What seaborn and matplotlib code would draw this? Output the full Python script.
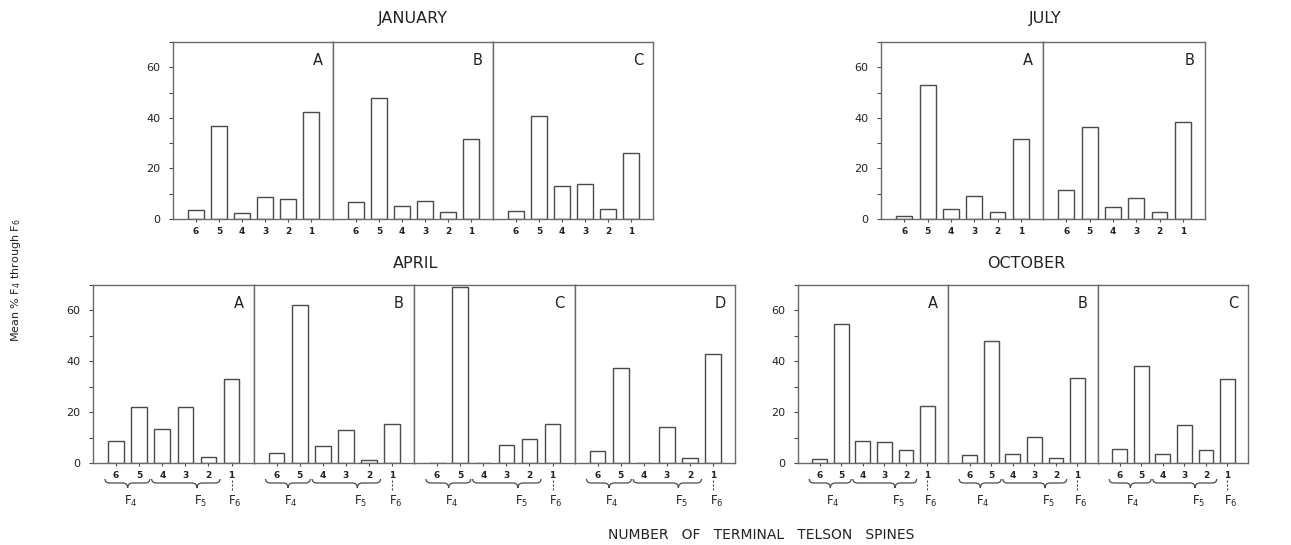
import matplotlib
matplotlib.use("Agg")
import matplotlib.pyplot as plt
import matplotlib.transforms as mtransforms
from matplotlib.path import Path
from matplotlib.patches import PathPatch
from matplotlib.ticker import MultipleLocator
import pandas as pd
import seaborn as sns

# Number of terminal telson spines (category order along each panel)
spines = ["6", "5", "4", "3", "2", "1"]

# Mean % of F4 through F6 for each station, by month
jan_a = [3.4, 36.9, 2.5, 8.8, 7.8, 42.5]
jan_b = [6.7, 47.9, 5.1, 7.3, 2.8, 31.7]
jan_c = [3.2, 40.9, 13.1, 13.9, 4.1, 26.0]

jul_a = [1.2, 53.0, 4.0, 9.0, 2.6, 31.5]
jul_b = [11.3, 36.3, 4.6, 8.3, 2.8, 38.3]

apr_a = [8.8, 22.2, 13.5, 22.2, 2.2, 33.0]
apr_b = [3.8, 62.3, 6.7, 12.8, 1.0, 15.2]
apr_c = [0.0, 69.3, 0.0, 7.1, 9.6, 15.2]
apr_d = [4.6, 37.3, 0.0, 14.0, 2.0, 42.9]

oct_a = [1.6, 54.6, 8.7, 8.3, 5.0, 22.4]
oct_b = [3.2, 47.9, 3.7, 10.3, 2.0, 33.5]
oct_c = [5.7, 38.3, 3.7, 15.0, 5.3, 33.0]

months = ["JANUARY", "JULY", "APRIL", "OCTOBER"]
stations = ["A", "B", "C", "D"]
y_ticks = [0, 20, 40, 60]

sns.set_style("white")
plt.rcParams["font.family"] = ["DejaVu Sans"]
plt.rcParams["mathtext.default"] = "regular"

W, H = 1291, 545
fig = plt.figure(figsize=(W / 100, H / 100), dpi=100)
fig.patch.set_facecolor("white")

FRAME = "#6a6a6a"
EDGE = "#4a4a4a"
TEXT = "#222222"


def px_axes(left, top, width, height):
    return fig.add_axes([left / W, 1 - (top + height) / H, width / W, height / H])


def brace(ax, x0, x1, xm, h_px):
    """Curly brace under the axis, from x0 to x1 with its tip at xm."""
    tr = mtransforms.blended_transform_factory(ax.transData, ax.transAxes)
    y_end = -16 / h_px
    y_line = -20 / h_px
    y_tip = -25 / h_px
    w = 0.22
    verts = [
        (x0, y_end), (x0, y_line), (x0 + w, y_line),
        (xm - w, y_line),
        (xm, y_line), (xm, y_tip),
        (xm, y_line), (xm + w, y_line),
        (x1 - w, y_line),
        (x1, y_line), (x1, y_end),
    ]
    codes = [Path.MOVETO, Path.CURVE3, Path.CURVE3,
             Path.LINETO,
             Path.CURVE3, Path.CURVE3,
             Path.CURVE3, Path.CURVE3,
             Path.LINETO,
             Path.CURVE3, Path.CURVE3]
    ax.add_patch(PathPatch(Path(verts, codes), transform=tr, fill=False,
                           edgecolor=EDGE, lw=0.9, clip_on=False))


def draw_group(title, title_xy, panels, left, top, width, height, braces):
    for i, vals in enumerate(panels):
        ax = px_axes(left + i * width, top, width, height)
        df = pd.DataFrame({"spines": spines, "pct": vals})
        sns.barplot(data=df, x="spines", y="pct", order=spines, ax=ax,
                    color="white", saturation=1, edgecolor=EDGE,
                    linewidth=1.0, width=0.68)
        ax.set_xlim(-1.0, 5.95)
        ax.set_ylim(0, 70)
        ax.set_xlabel("")
        ax.set_ylabel("")
        ax.set_facecolor("white")
        for s in ax.spines.values():
            s.set_visible(True)
            s.set_color(FRAME)
            s.set_linewidth(1.0)
        ax.set_yticks(y_ticks)
        ax.yaxis.set_minor_locator(MultipleLocator(10))
        if i == 0:
            ax.tick_params(axis="y", which="both", left=True, direction="out",
                           length=3, width=0.8, color=EDGE, labelsize=8,
                           labelcolor=TEXT, pad=6)
        else:
            ax.tick_params(axis="y", which="both", left=False, labelleft=False)
        ax.tick_params(axis="x", bottom=True, direction="out", length=2.5,
                       width=0.8, color=EDGE, labelsize=6.5, labelcolor=TEXT,
                       pad=3)
        for lab in ax.get_xticklabels():
            lab.set_fontweight("bold")
        ax.text(1 - 15 / width, 1 - 18 / height, stations[i],
                transform=ax.transAxes, ha="center", va="center",
                fontsize=10.5, color=TEXT)
        if braces:
            brace(ax, -0.48, 1.46, 0.5, height)
            brace(ax, 1.54, 4.5, 3.5, height)
            tr = mtransforms.blended_transform_factory(ax.transData, ax.transAxes)
            ax.plot([5, 5], [-17 / height, -27 / height], transform=tr,
                    color=EDGE, lw=0.8, ls=(0, (2, 1.5)), clip_on=False)
            ax.text(0.62, -38 / height, "F$_4$", transform=tr, ha="center",
                    va="center", fontsize=8.5, color=TEXT)
            ax.text(3.65, -38 / height, "F$_5$", transform=tr, ha="center",
                    va="center", fontsize=8.5, color=TEXT)
            ax.text(5.15, -38 / height, "F$_6$", transform=tr, ha="center",
                    va="center", fontsize=8.5, color=TEXT)
    fig.text(title_xy[0] / W, 1 - title_xy[1] / H, title, ha="center",
             va="center", fontsize=11.5, color=TEXT)


draw_group(months[0], (413, 19), [jan_a, jan_b, jan_c], 173, 42, 160, 177, False)
draw_group(months[1], (1045, 19), [jul_a, jul_b], 881, 42, 162, 177, False)
draw_group(months[2], (416, 263), [apr_a, apr_b, apr_c, apr_d], 93, 285, 160.5, 178, True)
draw_group(months[3], (1026, 263), [oct_a, oct_b, oct_c], 798, 285, 150, 178, True)

fig.text(761 / W, 1 - 535 / H, "NUMBER   OF   TERMINAL   TELSON   SPINES",
         ha="center", va="center", fontsize=10, color=TEXT)
fig.text(16 / W, 1 - 280 / H, "Mean % F$_4$ through F$_6$", rotation=90,
         ha="center", va="center", fontsize=8, color=TEXT)

fig.savefig("out.png", dpi=100, facecolor="white")
